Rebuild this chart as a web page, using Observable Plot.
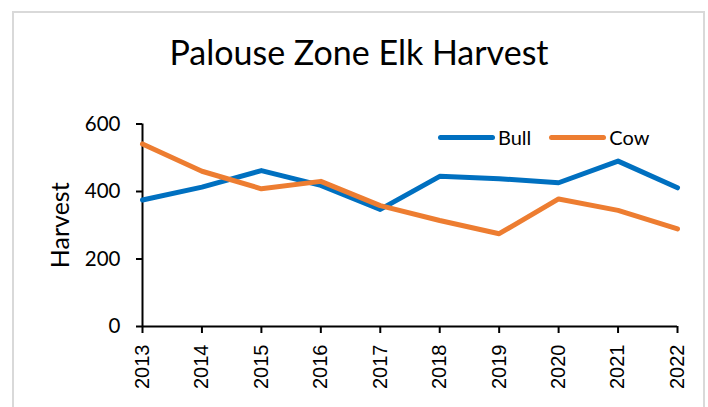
<!DOCTYPE html>
<html>
<head>
<meta charset="utf-8">
<script src="https://cdn.jsdelivr.net/npm/d3@7"></script>
<script src="https://cdn.jsdelivr.net/npm/@observablehq/plot@0.6"></script>
<style>
  html, body { margin: 0; padding: 0; background: #fff; }
  #wrap { position: relative; width: 708px; height: 407px; overflow: hidden; background: #fff; }
  #border { position: absolute; left: 12px; top: 11px; width: 689px; height: 420px; border: 2px solid #d9d9d9; box-sizing: content-box; }
  #title { position: absolute; left: 0; width: 718px; top: 31px; text-align: center; font-family: Lato, sans-serif; font-size: 34px; color: #000; white-space: nowrap; }
  #legend { position: absolute; top: 125px; left: 438px; font-family: Lato, sans-serif; font-size: 20px; color: #000; display: flex; align-items: center; white-space: nowrap; }
  .sw { display: inline-block; width: 57px; height: 5px; border-radius: 3px; margin-right: 3px; }
  .item { display: flex; align-items: center; }
  #plot { position: absolute; left: 0; top: 0; }
</style>
</head>
<body>
<div id="wrap">
  <div id="plot"></div>
  <div id="border"></div>
  <div id="title">Palouse Zone Elk Harvest</div>
  <div id="legend"></div>
</div>
<script>
const years = [2013, 2014, 2015, 2016, 2017, 2018, 2019, 2020, 2021, 2022];
const bull = [375, 413, 462, 418, 347, 445, 438, 426, 490, 411];
const cow  = [541, 460, 408, 430, 358, 314, 275, 378, 344, 289];
const seriesNames = ["Bull", "Cow"];
const seriesColors = ["#0070C0", "#ED7D31"];
const yTicks = [0, 200, 400, 600];

const rows = [];
years.forEach((yr, i) => {
  rows.push({year: yr, value: bull[i], series: "Bull"});
  rows.push({year: yr, value: cow[i], series: "Cow"});
});

const chart = Plot.plot({
  width: 708,
  height: 407,
  marginLeft: 142,
  marginRight: 31,
  marginTop: 123.5,
  marginBottom: 81,
  style: {background: "transparent", color: "#000"},
  x: {type: "linear", domain: [2013, 2022], label: null},
  y: {domain: [0, 600], label: null},
  color: {domain: seriesNames, range: seriesColors},
  marks: [
    Plot.axisY({ticks: yTicks, tickSize: 6, tickPadding: 16, fontSize: 20.5, fontFamily: "Lato, sans-serif", label: null}),
    Plot.axisX({ticks: years, tickFormat: d => String(d), tickSize: 7, tickPadding: 11, tickRotate: -90, fontSize: 20, fontFamily: "'Liberation Sans', Arial, sans-serif", label: null}),
    Plot.ruleY([0], {stroke: "#000", strokeWidth: 2}),
    Plot.ruleX([2013], {stroke: "#000", strokeWidth: 2}),
    Plot.lineY(rows, {x: "year", y: "value", stroke: "series", strokeWidth: 5, strokeLinejoin: "round", strokeLinecap: "round"}),
    Plot.text(["Harvest"], {frameAnchor: "left", textAnchor: "middle", dx: -82, rotate: -90, fontSize: 25, fontFamily: "Lato, sans-serif", fill: "#000"})
  ]
});
chart.querySelectorAll("g[aria-label='y-axis tick'] path, g[aria-label='x-axis tick'] path").forEach(p => p.setAttribute("stroke-width", "2"));
document.getElementById("plot").appendChild(chart);

const legend = document.getElementById("legend");
seriesNames.forEach((name, i) => {
  const item = document.createElement("div");
  item.className = "item";
  item.style.marginRight = i === 0 ? "18px" : "0";
  const sw = document.createElement("span");
  sw.className = "sw";
  sw.style.background = seriesColors[i];
  const label = document.createElement("span");
  label.textContent = name;
  item.appendChild(sw);
  item.appendChild(label);
  legend.appendChild(item);
});
</script>
</body>
</html>
